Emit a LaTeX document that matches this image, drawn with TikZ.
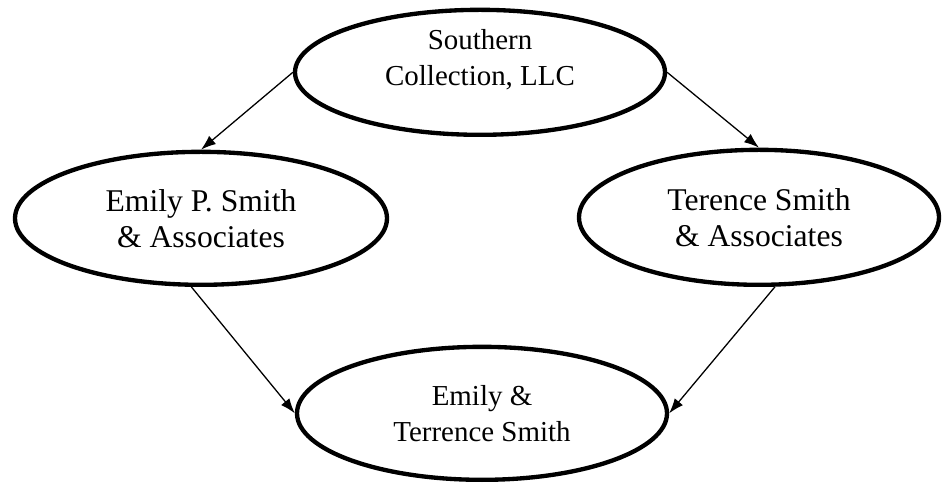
\documentclass[tikz,border=0pt]{standalone}
\usepackage{fontspec}
\setmainfont{Liberation Serif}
\usepackage{tikz}
\usetikzlibrary{shapes.geometric,arrows.meta,positioning}
\tikzset{
    firm/.style={ellipse,draw=black,line width=3.7pt,inner sep=0pt,align=center,font=\fontsize{24.7}{31}\selectfont},
    bigtext/.style={font=\fontsize{27}{30.5}\selectfont},
    firmtext/.style={inner sep=0pt,align=center,font=\fontsize{24.7}{31}\selectfont},
    link/.style={line width=1.1pt,-{Latex[length=4.5mm,width=3.2mm]}}
}
\begin{document}
\begin{tikzpicture}
\useasboundingbox (0,0) rectangle (28.29,14.52);
				
				% ellipses
				\node[firm,minimum width=11.1cm,minimum height=3.75cm] (scl) at (14.40,12.35) {};
				\node[firmtext] (scltext) at ([yshift=0.37cm]scl.center) {Southern\\Collection, LLC};
				\node[firm,bigtext,minimum width=11.16cm,minimum height=3.99cm] (eps) at (6.03,7.97) {Emily P. Smith\\\& Associates};
				\node[firm,bigtext,minimum width=10.8cm,minimum height=4.05cm] (tsa) at (22.77,8.0) {Terence Smith\\\& Associates};
				\node[firm,minimum width=11.1cm,minimum height=3.99cm] (ets) at (14.46,2.12) {Emily \&\\Terrence Smith};
				
				% arrows
				\draw[link] (scl.west) -- (eps.north);
				\draw[link] (scl.east) -- (tsa.north);
				\draw[link] (eps.262) -- (ets.west);
				\draw[link] (tsa.283) -- (ets.east);
\end{tikzpicture}
\end{document}
